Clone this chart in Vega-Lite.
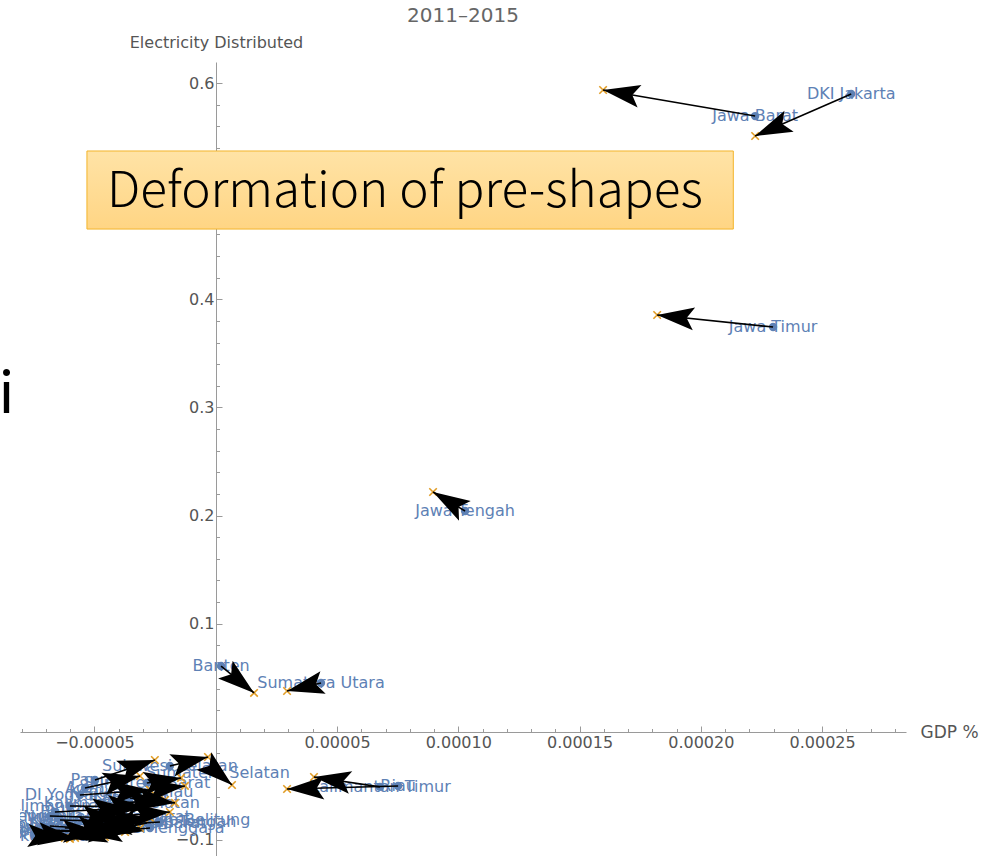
{
  "$schema": "https://vega.github.io/schema/vega-lite/v6.json",
  "autosize": {"type": "none"},
  "padding": {"left": 20, "top": 62, "right": 91, "bottom": 0},
  "width": 886,
  "height": 794,
  "title": {"text": "2011–2015", "fontSize": 20, "font": "DejaVu Sans", "fontWeight": "normal", "color": "#666666", "anchor": "middle", "frame": "group", "offset": 8},
  "config": {
    "font": "DejaVu Sans",
    "view": {"stroke": null},
    "axis": {"domainColor": "#9a9a9a", "tickColor": "#9a9a9a", "labelColor": "#555555", "labelFontSize": 16, "titleColor": "#555555", "titleFontWeight": "normal", "grid": false, "labelOverlap": false, "labelFlush": false, "labelBound": false}
  },
  "resolve": {"axis": {"x": "independent", "y": "independent"}},
  "datasets": {
    "prov": [
      {"name": "DKI Jakarta", "g0": 0.0002620, "e0": 0.5899, "g1": 0.0002224, "e1": 0.5511},
      {"name": "Jawa Barat", "g0": 0.0002224, "e0": 0.5695, "g1": 0.0001597, "e1": 0.5936},
      {"name": "Jawa Timur", "g0": 0.0002298, "e0": 0.3744, "g1": 0.0001820, "e1": 0.3855},
      {"name": "Jawa Tengah", "g0": 0.0001028, "e0": 0.2043, "g1": 0.0000896, "e1": 0.2218},
      {"name": "Banten", "g0": 0.0000022, "e0": 0.0609, "g1": 0.0000158, "e1": 0.0360},
      {"name": "Sumatera Utara", "g0": 0.0000434, "e0": 0.0452, "g1": 0.0000294, "e1": 0.0378},
      {"name": "Kalimantan Timur", "g0": 0.0000677, "e0": -0.0509, "g1": 0.0000405, "e1": -0.0417},
      {"name": "Riau", "g0": 0.0000752, "e0": -0.0500, "g1": 0.0000294, "e1": -0.0528},
      {"name": "Sulawesi Selatan", "g0": -0.0000189, "e0": -0.0315, "g1": -0.0000032, "e1": -0.0232},
      {"name": "Sumatera Selatan", "g0": 0.0000009, "e0": -0.0380, "g1": 0.0000067, "e1": -0.0491},
      {"name": "Sumatera Barat", "g0": -0.0000284, "e0": -0.0473, "g1": -0.0000143, "e1": -0.0426},
      {"name": "Papua", "g0": -0.0000498, "e0": -0.0445, "g1": -0.0000251, "e1": -0.0260},
      {"name": "Kepulauan Riau", "g0": -0.0000349, "e0": -0.0556, "g1": -0.0000127, "e1": -0.0500},
      {"name": "DI Yogyakarta", "g0": -0.0000560, "e0": -0.0584, "g1": -0.0000271, "e1": -0.0537},
      {"name": "Kalimantan Selatan", "g0": -0.0000387, "e0": -0.0657, "g1": -0.0000209, "e1": -0.0630},
      {"name": "Aceh", "g0": -0.0000539, "e0": -0.0519, "g1": -0.0000312, "e1": -0.0408},
      {"name": "Kalimantan Barat", "g0": -0.0000601, "e0": -0.0685, "g1": -0.0000292, "e1": -0.0694},
      {"name": "Nusa Tenggara Barat", "g0": -0.0000448, "e0": -0.0787, "g1": -0.0000189, "e1": -0.0741},
      {"name": "Kalimantan Tengah", "g0": -0.0000230, "e0": -0.0833, "g1": -0.0000498, "e1": -0.0870},
      {"name": "Sulawesi Tengah", "g0": -0.0000498, "e0": -0.0852, "g1": -0.0000271, "e1": -0.0796},
      {"name": "Bali", "g0": -0.0000663, "e0": -0.0741, "g1": -0.0000354, "e1": -0.0704},
      {"name": "Nusa Tenggara Timur", "g0": -0.0000684, "e0": -0.0778, "g1": -0.0000395, "e1": -0.0796},
      {"name": "Jambi", "g0": -0.0000642, "e0": -0.0815, "g1": -0.0000333, "e1": -0.0833},
      {"name": "Sulawesi Utara", "g0": -0.0000684, "e0": -0.0870, "g1": -0.0000415, "e1": -0.0907},
      {"name": "Sulawesi Tenggara", "g0": -0.0000271, "e0": -0.0889, "g1": -0.0000539, "e1": -0.0944},
      {"name": "Bengkulu", "g0": -0.0000704, "e0": -0.0916, "g1": -0.0000477, "e1": -0.0926},
      {"name": "Kepulauan Bangka Belitung", "g0": -0.0000312, "e0": -0.0815, "g1": -0.0000457, "e1": -0.0972},
      {"name": "Gorontalo", "g0": -0.0000725, "e0": -0.0944, "g1": -0.0000580, "e1": -0.0981},
      {"name": "Sulawesi Barat", "g0": -0.0000284, "e0": -0.0842, "g1": -0.0000601, "e1": -0.0990},
      {"name": "Maluku", "g0": -0.0000704, "e0": -0.0907, "g1": -0.0000374, "e1": -0.0926},
      {"name": "Maluku Utara", "g0": -0.0000745, "e0": -0.0963, "g1": -0.0000622, "e1": -0.0981},
      {"name": "Papua Barat", "g0": -0.0000622, "e0": -0.0889, "g1": -0.0000312, "e1": -0.0889},
      {"name": "Lampung", "g0": -0.0000354, "e0": -0.0611, "g1": -0.0000168, "e1": -0.0657}
    ]
  },
  "layer": [
    {
      "data": {"name": "prov"},
      "mark": {"type": "text", "clip": true, "fontSize": 16, "color": "#5E81B5", "align": "center", "baseline": "middle"},
      "encoding": {
        "x": {"field": "g0", "type": "quantitative", "scale": {"domain": [-0.0000807, 0.0002846], "nice": false, "zero": false},
          "axis": {"orient": "bottom", "offset": -124, "title": "GDP %", "titleFontSize": 17, "titleAlign": "left", "titleBaseline": "middle", "titleX": 900, "titleY": 0,
            "values": [-0.00005, 0.00005, 0.0001, 0.00015, 0.0002, 0.00025],
            "format": ".5f",
            "tickSize": -6, "labelPadding": 8}},
        "y": {"field": "e0", "type": "quantitative", "scale": {"domain": [-0.1148, 0.6195], "nice": false, "zero": false},
          "axis": {"orient": "left", "offset": -196, "title": "Electricity Distributed", "titleFontSize": 16, "titleAngle": 0, "titleAlign": "center", "titleBaseline": "middle", "titleX": 0, "titleY": -20,
            "values": [-0.1, 0.1, 0.2, 0.3, 0.4, 0.5, 0.6],
            "format": ".1f",
            "tickSize": -6, "labelPadding": 8}},
        "text": {"field": "name"}
      }
    },
    {
      "data": {"name": "prov"},
      "mark": {"type": "point", "shape": "circle", "filled": true, "size": 70, "color": "#5E81B5", "opacity": 1},
      "encoding": {
        "x": {"field": "g0", "type": "quantitative",
          "axis": {"orient": "bottom", "offset": -124, "title": null, "labels": false, "domain": false,
            "values": [-0.00008, -0.00007, -0.00006, -0.00004, -0.00003, -0.00002, -0.00001, 0.00001, 0.00002, 0.00003, 0.00004, 0.00006, 0.00007, 0.00008, 0.00009, 0.00011, 0.00012, 0.00013, 0.00014, 0.00016, 0.00017, 0.00018, 0.00019, 0.00021, 0.00022, 0.00023, 0.00024, 0.00026, 0.00027, 0.00028],
            "tickSize": -3.5}},
        "y": {"field": "e0", "type": "quantitative",
          "axis": {"orient": "left", "offset": -196, "title": null, "labels": false, "domain": false,
            "values": [-0.08, -0.06, -0.04, -0.02, 0.02, 0.04, 0.06, 0.08, 0.12, 0.14, 0.16, 0.18, 0.22, 0.24, 0.26, 0.28, 0.32, 0.34, 0.36, 0.38, 0.42, 0.44, 0.46, 0.48, 0.52, 0.54, 0.56, 0.58],
            "tickSize": -3.5}}
      }
    },
    {
      "data": {"name": "prov"},
      "mark": {"type": "point", "shape": "M-1,-1L1,1M-1,1L1,-1", "filled": false, "size": 56, "color": "#E19C24", "strokeWidth": 1.6, "opacity": 1},
      "encoding": {
        "x": {"field": "g1", "type": "quantitative", "axis": null},
        "y": {"field": "e1", "type": "quantitative", "axis": null}
      }
    },
    {
      "data": {"name": "prov"},
      "mark": {"type": "rule", "color": "black", "strokeWidth": 1.6},
      "encoding": {
        "x": {"field": "g0", "type": "quantitative", "axis": null},
        "y": {"field": "e0", "type": "quantitative", "axis": null},
        "x2": {"field": "g1"},
        "y2": {"field": "e1"}
      }
    },
    {
      "data": {"name": "prov"},
      "transform": [{"calculate": "atan2(-(datum.e1-datum.e0)*1081.3, (datum.g1-datum.g0)*2425404)*180/PI", "as": "ang"}],
      "mark": {"type": "point", "shape": "M0,0L-1,-0.31L-0.8,0L-1,0.31Z", "filled": true, "size": 5476, "color": "black", "opacity": 1, "strokeWidth": 0},
      "encoding": {
        "x": {"field": "g1", "type": "quantitative", "axis": null},
        "y": {"field": "e1", "type": "quantitative", "axis": null},
        "angle": {"field": "ang", "type": "quantitative", "scale": null}
      }
    },
    {
      "data": {"values": [{}]},
      "mark": {"type": "rect", "fill": {"gradient": "linear", "x1": 0, "y1": 0, "x2": 0, "y2": 1, "stops": [{"offset": 0, "color": "#FFE3A6"}, {"offset": 1, "color": "#FFD584"}]}, "stroke": "#F3B42A", "strokeWidth": 1},
      "encoding": {
        "x": {"datum": -0.0000531, "axis": null},
        "x2": {"datum": 0.0002134},
        "y": {"datum": 0.5372, "axis": null},
        "y2": {"datum": 0.4650}
      }
    },
    {
      "data": {"values": [{"t": "Deformation of pre-shapes"}]},
      "mark": {"type": "text", "font": "Noto Sans CJK JP", "fontSize": 49.5, "fontWeight": 300, "color": "black", "align": "left", "baseline": "middle"},
      "encoding": {
        "x": {"datum": -0.0000448, "axis": null},
        "y": {"datum": 0.499, "axis": null},
        "text": {"field": "t"}
      }
    },
    {
      "data": {"values": [{"t": "i"}]},
      "mark": {"type": "text", "font": "Noto Sans CJK JP", "fontSize": 58, "color": "black", "align": "center", "baseline": "alphabetic"},
      "encoding": {
        "x": {"datum": -0.0000863, "axis": null},
        "y": {"datum": 0.2949, "axis": null},
        "text": {"field": "t"}
      }
    }
  ]
}
